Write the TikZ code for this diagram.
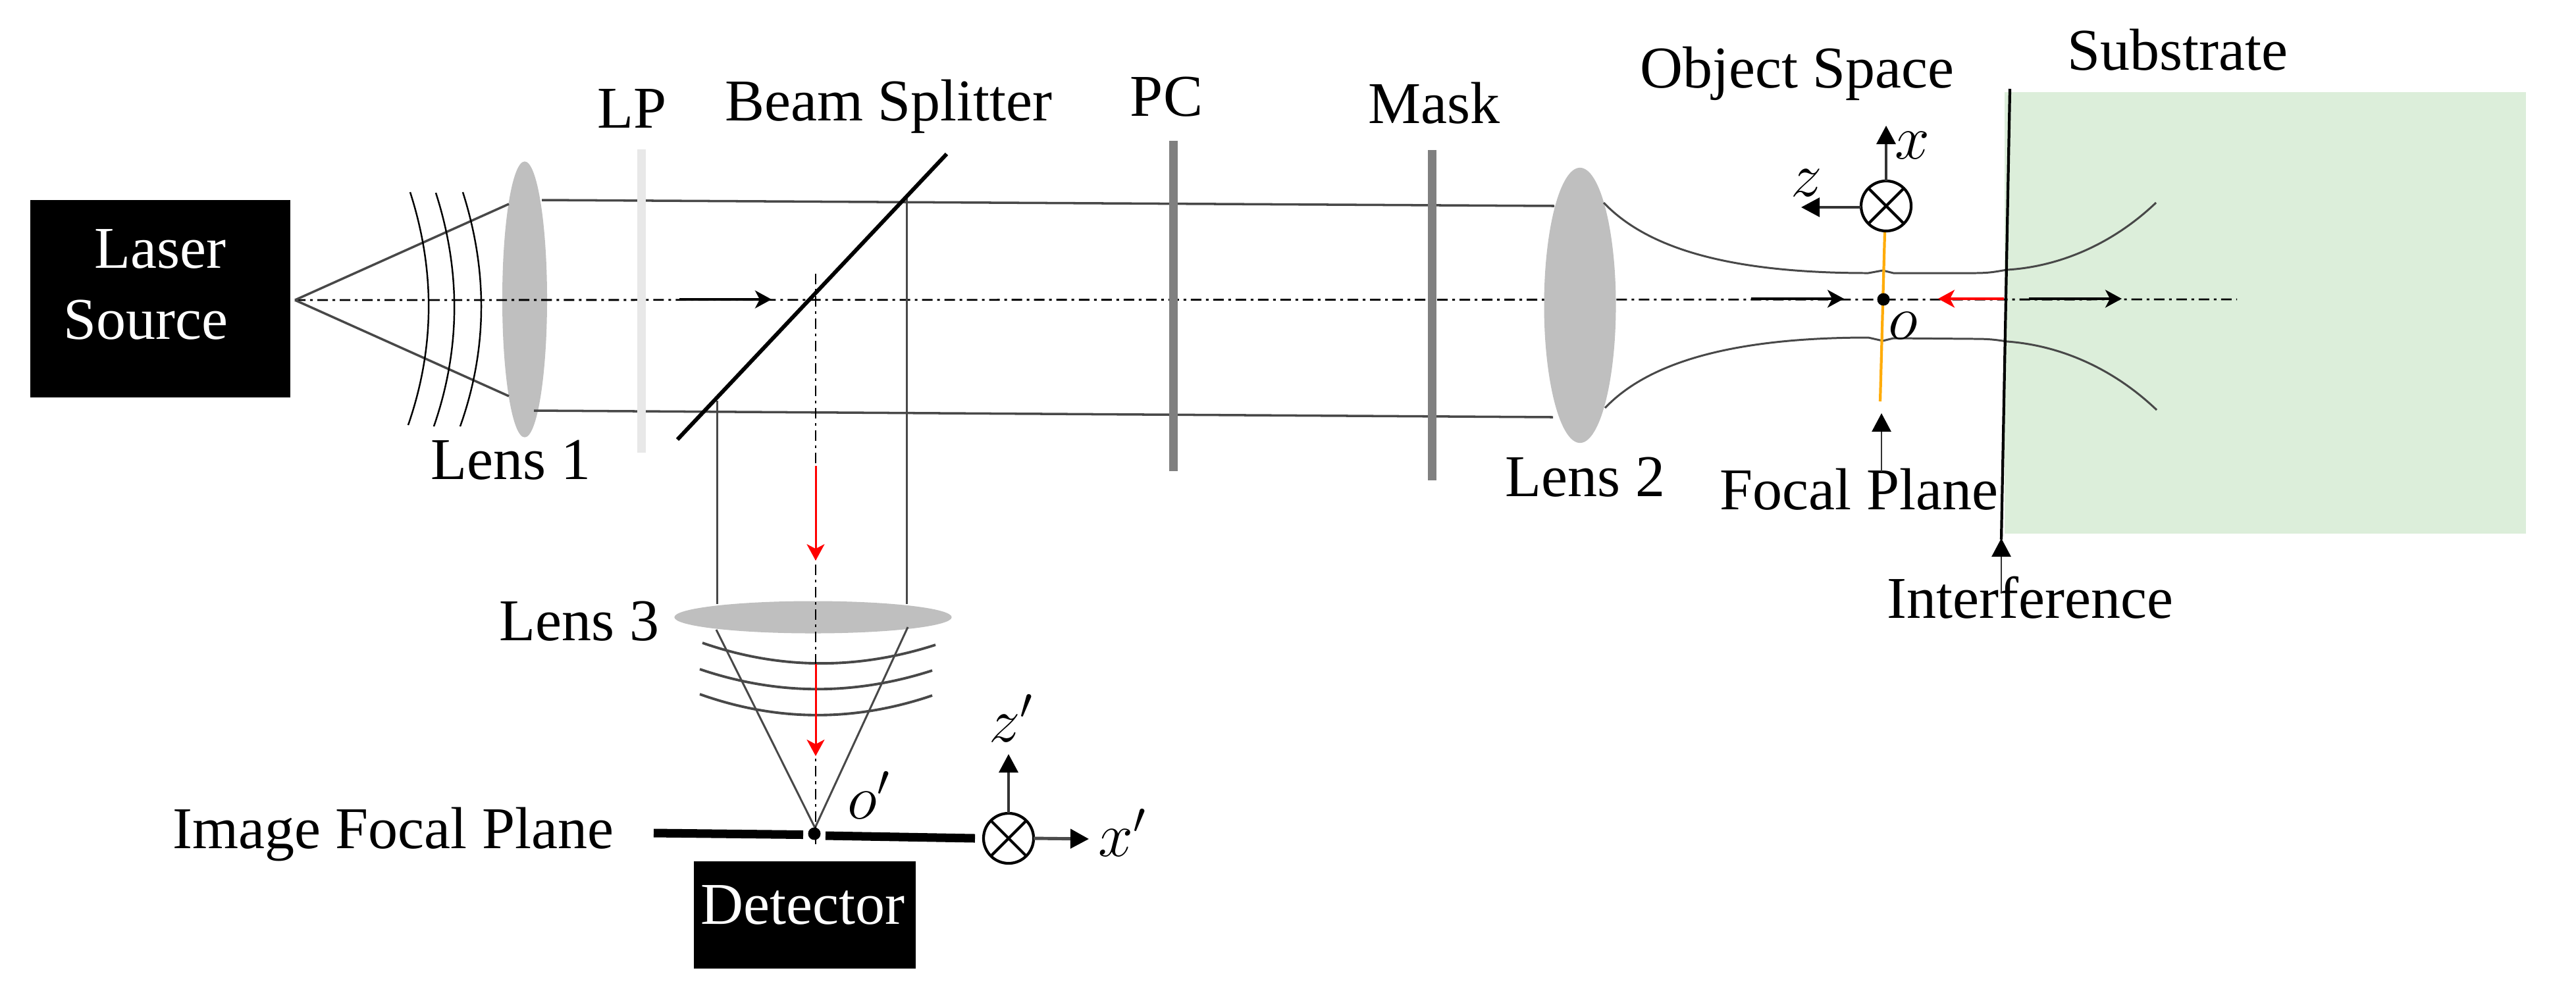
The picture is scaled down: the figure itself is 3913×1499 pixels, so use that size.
\documentclass[tikz,border=0pt]{standalone}
\usepackage{fix-cm}
\usepackage{fontspec}
\setmainfont{Liberation Serif}
\usetikzlibrary{arrows.meta,shapes.geometric}
\definecolor{lensgray}{HTML}{BFBFBF}
\definecolor{platedark}{HTML}{808080}
\definecolor{platelight}{HTML}{E8E8E8}
\definecolor{subgreen}{HTML}{DCEEDA}
\definecolor{beamgray}{HTML}{484848}
\definecolor{focalorange}{HTML}{FFAC0A}
\definecolor{redarrow}{HTML}{FF0000}
\tikzset{
  lbl/.style={font=\fontsize{25.6}{30}\selectfont, inner sep=0pt, outer sep=0pt, anchor=base},
  mathlbl/.style={font=\fontsize{27}{30}\selectfont, inner sep=0pt, outer sep=0pt, anchor=base},
  blackbox/.style={fill=black, text=white, inner sep=0pt, outer sep=0pt, anchor=north west},
  lensbody/.style={ellipse, fill=lensgray, inner sep=0pt, outer sep=0pt},
  beam/.style={draw=beamgray, line width=1pt},
  thinline/.style={draw=beamgray, line width=0.85pt},
  wave/.style={draw=black, line width=0.7pt},
  wavedark/.style={draw=beamgray, line width=1.1pt},
  axisline/.style={draw=black, line width=0.8pt, dash pattern=on 0.16cm off 0.07cm on 0.04cm off 0.07cm},
  flowarrow/.style={draw=black, line width=1.1pt, -{Stealth[length=0.25cm,width=0.27cm,inset=0.07cm]}},
  redflow/.style={draw=redarrow, line width=1.1pt, -{Stealth[length=0.25cm,width=0.27cm,inset=0.07cm]}},
  axisarrow/.style={draw=black!80, line width=1pt, -{Triangle[length=0.28cm,width=0.29cm,color=black]}},
  crossmark/.style={circle, draw=black, line width=1.2pt, minimum size=0.76cm, inner sep=0pt, outer sep=0pt},
  dotmark/.style={circle, fill=black, minimum size=0.19cm, inner sep=0pt, outer sep=0pt}
}
\begin{document}
\begin{tikzpicture}[x=0.01cm,y=-0.01cm]
\useasboundingbox (0,0) rectangle (3913,1499);
% substrate
\fill[subgreen] (3045,140) rectangle (3837,811);
% lens 1 sits under the axis
\node[lensbody, minimum width=0.68cm, minimum height=4.19cm] (lensA) at (797,455) {};
% sources
\node[blackbox, minimum width=3.95cm, minimum height=3.0cm] (laser) at (46,304) {};
\node[lbl, text=white] (laserA) at (243,407) {Laser};
\node[lbl, text=white] (laserB) at (221,515) {Source};
% named points
\coordinate (src) at (448,456);
\coordinate (axisEnd) at (3398,455);
\coordinate (splitA) at (1029,668);
\coordinate (splitB) at (1438,234);
% axis
\draw[axisline] (src) -- (axisEnd);
% rays from source
\draw[beam] (src) -- (773,310);
\draw[beam] (src) -- (773,602);
% wavefronts after source
\draw[wave] (623,292) .. controls (661,410) and (661,528) .. (620,646);
\draw[wave] (662,293) .. controls (700,411) and (700,530) .. (659,648);
\draw[wave] (703,292) .. controls (741,411) and (741,530) .. (699,648);
% collimated beams
\draw[beam] (823,304) -- (2361,313);
\draw[beam] (811,624) -- (2359,634);
% plates
\fill[platelight] (968,227) rectangle (981,688);
\fill[platedark] (1776,214) rectangle (1789,716);
\fill[platedark] (2169,228) rectangle (2182,730);
% lens 2
\node[lensbody, minimum width=1.09cm, minimum height=4.18cm] (lensB) at (2400,464) {};
% beam waist
\draw[beam, line width=0.85pt, line join=round] (2436,308) .. controls (2500,375) and (2620,415) .. (2838,415) -- (2860,411) -- (2876,415) -- (3000,415) .. controls (3025,415) and (3035,412) .. (3049,410) .. controls (3130,405) and (3210,370) .. (3275,308);
\draw[beam, line width=0.85pt, line join=round] (2438,620) .. controls (2500,555) and (2620,513) .. (2838,513) -- (2860,518) -- (2876,514) -- (3000,515) .. controls (3025,515) and (3035,517) .. (3049,519) .. controls (3130,525) and (3210,560) .. (3276,623);
% lens 3
\node[lensbody, minimum width=4.21cm, minimum height=0.49cm] (lensC) at (1235,938) {};
% returning rays
\draw[thinline] (1377,301) -- (1377,918);
\draw[thinline] (1089,609) -- (1089,918);
\coordinate (imgPt) at (1238,1258);
\draw[thinline] (1088,957) -- (imgPt);
\draw[thinline] (1379,953) -- (imgPt);
\draw[wavedark] (1067,977) .. controls (1185,1018) and (1303,1018) .. (1421,980);
\draw[wavedark] (1063,1017) .. controls (1181,1057) and (1298,1057) .. (1416,1019);
\draw[wavedark] (1063,1055) .. controls (1181,1097) and (1298,1097) .. (1416,1057);
% vertical axis
\draw[axisline] (1239,416) -- (1239,1287);
% beam splitter
\draw[draw=black, line width=1.7pt] (splitA) -- (splitB);
% flow arrows
\draw[flowarrow] (1032,455) -- (1172,455);
\draw[flowarrow] (2660,454) -- (2801,454);
\draw[flowarrow] (3082,454) -- (3223,454);
\draw[redflow] (3044,454) -- (2944,454);
\draw[redflow, line width=0.85pt] (1239,708) -- (1239,852);
\draw[redflow, line width=0.85pt] (1239,1009) -- (1239,1149);
% focal plane (object)
\draw[draw=focalorange, line width=1.2pt] (2863,352) -- (2856,610);
\node[dotmark] (oDot) at (2861,455) {};
% interference surface
\draw[draw=black, line width=1.2pt] (3053,135) -- (3040,820);
% object coordinate frame
\node[crossmark] (frameO) at (2865,313) {};
\draw[line width=1.2pt] (frameO.north west) -- (frameO.south east);
\draw[line width=1.2pt] (frameO.north east) -- (frameO.south west);
\coordinate (xTip) at (2865,191);
\coordinate (zTip) at (2736,315);
\draw[axisarrow] (frameO.north) -- (xTip);
\draw[axisarrow] (frameO.west |- zTip) -- (zTip);
\node[mathlbl] (xLab) at (2905,241) {$x$};
\node[mathlbl] (zLab) at (2744,298) {$z$};
\node[mathlbl] (oLab) at (2891,515) {$o$};
% image focal plane
\draw[draw=black, line width=3.7pt] (993,1266) -- (1220,1268.5);
\draw[draw=black, line width=3.7pt] (1254,1270) -- (1481,1274);
\node[dotmark] (imgDot) at (1237,1267) {};
% image coordinate frame
\node[crossmark] (frameI) at (1532,1274) {};
\draw[line width=1.2pt] (frameI.north west) -- (frameI.south east);
\draw[line width=1.2pt] (frameI.north east) -- (frameI.south west);
\coordinate (zpTip) at (1532,1146);
\coordinate (xpTip) at (1654,1275);
\draw[axisarrow] (frameI.north) -- (zpTip);
\draw[axisarrow, line width=1.4pt, draw=black!70] (frameI.east) -- (xpTip);
\node[mathlbl] (zpLab) at (1536,1127) {$z'$};
\node[mathlbl] (opLab) at (1320,1244) {$o'$};
\node[mathlbl] (xpLab) at (1705,1301) {$x'$};
% detector
\node[blackbox, minimum width=3.37cm, minimum height=1.63cm] (detector) at (1054,1309) {};
\node[lbl, text=white] (detLab) at (1219,1404) {Detector};
% labels
\node[lbl] (lpLab) at (960,194) {LP};
\node[lbl] (bsLab) at (1350,183) {Beam Splitter};
\node[lbl] (pcLab) at (1772,176) {PC};
\node[lbl] (maskLab) at (2178,187) {Mask};
\node[lbl] (objLab) at (2730,133) {Object Space};
\node[lbl] (subLab) at (3308,106) {Substrate};
\node[lbl] (l1Lab) at (776,728) {Lens 1};
\node[lbl] (l2Lab) at (2408,754) {Lens 2};
\node[lbl] (l3Lab) at (880,973) {Lens 3};
\node[lbl] (fpLab) at (2824,774) {Focal Plane};
\node[lbl] (ifLab) at (3084,939) {Interference};
\node[lbl] (ifpLab) at (597,1289) {Image Focal Plane};
% pointer arrows
\coordinate (fpFoot) at (2858,717);
\coordinate (fpTip) at (2858,628);
\coordinate (ifFoot) at (3040,902);
\coordinate (ifTip) at (3040,818);
\draw[axisarrow, line width=0.8pt] (fpFoot) -- (fpTip);
\draw[axisarrow, line width=0.8pt] (ifFoot) -- (ifTip);
\end{tikzpicture}
\end{document}
